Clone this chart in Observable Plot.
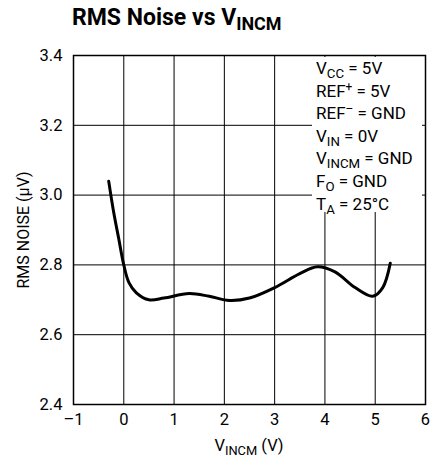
<!DOCTYPE html>
<html><head><meta charset="utf-8">
<script src="https://cdn.jsdelivr.net/npm/d3@7"></script>
<script src="https://cdn.jsdelivr.net/npm/@observablehq/plot@0.6"></script>
<style>
body{margin:0;background:#fff;font-family:"Liberation Sans Narrow","Roboto",sans-serif;}
#wrap{position:relative;width:430px;height:464px;}
.t{position:absolute;color:#000;white-space:nowrap;}
#title{left:72px;top:4px;font-size:23px;font-weight:bold;}
#legend{position:absolute;left:312px;top:57px;width:110px;height:155px;background:#fff;font-size:17px;line-height:22.6px;padding-left:4px;box-sizing:border-box;white-space:nowrap;}
#xlabel{left:0;width:498px;text-align:center;top:436px;font-size:16.5px;}
sub{font-size:0.78em;vertical-align:-0.3em;line-height:0;}
sup{font-size:0.7em;vertical-align:0.5em;line-height:0;}
</style></head>
<body><div id="wrap"></div>
<script>
const vincm = [-0.3,-0.2,-0.1,0,0.1,0.25,0.5,0.8,1.3,1.7,2.1,2.5,3.0,3.5,3.85,4.2,4.6,4.95,5.15,5.3];
const noise = [3.04,2.95,2.875,2.80,2.75,2.72,2.70,2.705,2.718,2.71,2.698,2.705,2.735,2.775,2.795,2.78,2.735,2.71,2.735,2.805];
const xTicks = [-1,0,1,2,3,4,5,6];
const yTicks = [2.4,2.6,2.8,3.0,3.2,3.4];
const xGrid = [0,1,2,3,4,5];
const yGrid = [2.6,2.8,3.0,3.2];

const data = vincm.map((x,i)=>({x, y: noise[i]}));
const font = '"Liberation Sans Narrow","Roboto",sans-serif';

const chart = Plot.plot({
  width: 430, height: 464,
  marginTop: 55, marginLeft: 73, marginRight: 5, marginBottom: 60,
  style: {fontFamily: font, fontSize: "16.5px", color: "#000", background: "#fff"},
  x: {domain: [-1,6], ticks: xTicks, tickFormat: d => d < 0 ? "\u2013" + Math.abs(d) : String(d), tickSize: 0, tickPadding: 9, label: null},
  y: {domain: [2.4,3.4], ticks: yTicks, tickFormat: d3.format(".1f"), tickSize: 0, tickPadding: 11,
      label: "RMS NOISE (\u00b5V)", labelAnchor: "center", labelArrow: "none", labelOffset: 56},
  marks: [
    Plot.ruleX(xGrid, {stroke: "#000", strokeWidth: 1}),
    Plot.ruleY(yGrid, {stroke: "#000", strokeWidth: 1}),
    Plot.frame({stroke: "#000", strokeWidth: 1.5}),
    Plot.line(data, {x: "x", y: "y", stroke: "#000", strokeWidth: 3, curve: "catmull-rom"})
  ]
});
const wrap = document.getElementById("wrap");
wrap.appendChild(chart);
chart.style.position = "absolute"; chart.style.left = "0"; chart.style.top = "0";
d3.select(chart).selectAll("[aria-label='y-axis label'] text").style("font-size","16px");

const title = document.createElement("div");
title.className = "t"; title.id = "title";
title.innerHTML = "RMS Noise vs V<sub>INCM</sub>";
wrap.appendChild(title);

const legendLines = [
  "V<sub>CC</sub> = 5V",
  "REF<sup>+</sup> = 5V",
  "REF<sup>\u2013</sup> = GND",
  "V<sub>IN</sub> = 0V",
  "V<sub>INCM</sub> = GND",
  "F<sub>O</sub> = GND",
  "T<sub>A</sub> = 25\u00b0C"
];
const lg = document.createElement("div");
lg.id = "legend";
lg.innerHTML = legendLines.map(s => "<div>" + s + "</div>").join("");
wrap.appendChild(lg);

const xl = document.createElement("div");
xl.className = "t"; xl.id = "xlabel";
xl.innerHTML = "V<sub>INCM</sub> (V)";
wrap.appendChild(xl);
</script></body></html>
